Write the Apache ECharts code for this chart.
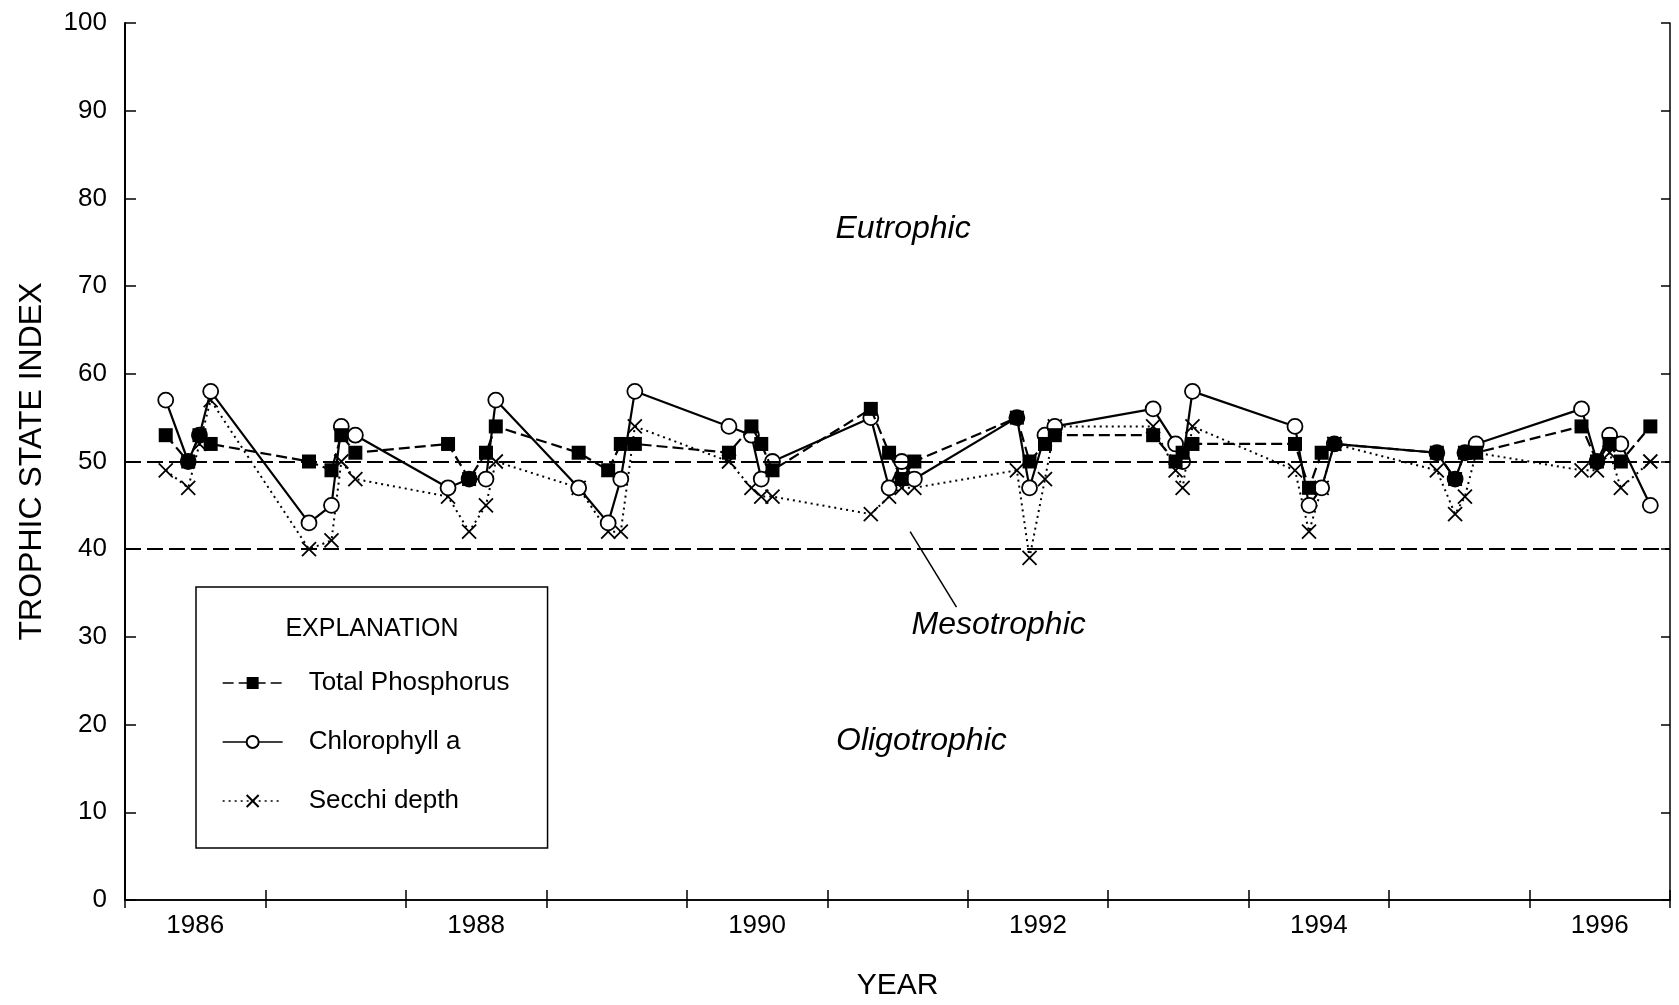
<!DOCTYPE html>
<html>
<head>
<meta charset="utf-8">
<script src="https://cdn.jsdelivr.net/npm/echarts@6/dist/echarts.min.js"></script>
<style>
  html, body { margin: 0; background: #fff; }
  #chart { width: 1679px; height: 1005px; }
</style>
</head>
<body>
<div id="chart"></div>
<script>
// sampling dates, decimal years
const dates = [
  1986.29, 1986.45, 1986.53, 1986.61,
  1987.31, 1987.47, 1987.54, 1987.64,
  1988.30, 1988.45, 1988.57, 1988.64,
  1989.23, 1989.44, 1989.53, 1989.63,
  1990.30, 1990.46, 1990.53, 1990.61,
  1991.31, 1991.44, 1991.53, 1991.62,
  1992.35, 1992.44, 1992.55, 1992.62,
  1993.32, 1993.48, 1993.53, 1993.60,
  1994.33, 1994.43, 1994.52, 1994.61,
  1995.34, 1995.47, 1995.54, 1995.62,
  1996.37, 1996.48, 1996.57, 1996.65, 1996.86
];
const totalPhosphorus = [
  53, 50, 53, 52,  50, 49, 53, 51,  52, 48, 51, 54,  51, 49, 52, 52,
  51, 54, 52, 49,  56, 51, 48, 50,  55, 50, 52, 53,  53, 50, 51, 52,
  52, 47, 51, 52,  51, 48, 51, 51,  54, 50, 52, 50, 54
];
const chlorophyllA = [
  57, 50, 53, 58,  43, 45, 54, 53,  47, 48, 48, 57,  47, 43, 48, 58,
  54, 53, 48, 50,  55, 47, 50, 48,  55, 47, 53, 54,  56, 52, 50, 58,
  54, 45, 47, 52,  51, 48, 51, 52,  56, 50, 53, 52, 45
];
const secchiDepth = [
  49, 47, 52, 57,  40, 41, 50, 48,  46, 42, 45, 50,  47, 42, 42, 54,
  50, 47, 46, 46,  44, 46, 47, 47,  49, 39, 48, 54,  54, 49, 47, 54,
  49, 42, 47, 52,  49, 44, 46, 51,  49, 49, 51, 47, 50
];

const yearTicks = [1986, 1987, 1988, 1989, 1990, 1991, 1992, 1993, 1994, 1995, 1996, 1997];
const yearLabels = [1986, 1988, 1990, 1992, 1994, 1996];
const boundaries = [50, 40];

// zone names and where they sit (data space)
const zoneNames = ["Eutrophic", "Mesotrophic", "Oligotrophic"];
const zoneX = [1991.54, 1992.22, 1991.67];
const zoneY = [76.5, 31.3, 18.1];
const leaderFrom = [1991.59, 42.0];
const leaderTo = [1991.92, 33.4];

const FONT = "Liberation Sans, Arial, Helvetica, sans-serif";
const pts = (vals) => dates.map((d, i) => [d, vals[i]]);
const X_MARK = "path://M0,0L10,10M0,10L10,0";

const chart = echarts.init(document.getElementById("chart"));

const option = {
  backgroundColor: "#fff",
  animation: false,
  textStyle: { fontFamily: FONT, color: "#000" },
  grid: { left: 125, right: 9, top: 23, bottom: 105, outerBoundsMode: "none" },
  xAxis: [
    {
      type: "value", min: 1986, max: 1997, position: "bottom",
      name: "YEAR", nameLocation: "middle", nameGap: 71,
      nameTextStyle: { fontSize: 30, color: "#000", fontFamily: FONT },
      axisLine: { show: true, lineStyle: { color: "#000", width: 1.5 } },
      axisTick: { show: true, inside: true, length: 10, customValues: yearTicks,
        lineStyle: { color: "#000", width: 1.5 } },
      axisLabel: { show: true, margin: 13, fontSize: 26, color: "#000", fontFamily: FONT,
        customValues: yearLabels.map(y => y + 0.5),
        formatter: v => String(Math.floor(v)) },
      splitLine: { show: false }
    },
    {
      type: "value", min: 1986, max: 1997, position: "top",
      axisLine: { show: true, lineStyle: { color: "#000", width: 1.5 } },
      axisTick: { show: true, inside: true, length: 8, customValues: yearTicks,
        lineStyle: { color: "#000", width: 1.5 } },
      axisLabel: { show: false },
      splitLine: { show: false }
    }
  ],
  yAxis: [
    {
      type: "value", min: 0, max: 100, interval: 10, position: "left",
      name: "TROPHIC STATE INDEX", nameLocation: "middle", nameGap: 77,
      nameTextStyle: { fontSize: 32, color: "#000", fontFamily: FONT },
      axisLine: { show: true, lineStyle: { color: "#000", width: 2 } },
      axisTick: { show: true, inside: true, length: 11, lineStyle: { color: "#000", width: 1.5 } },
      axisLabel: { margin: 18, fontSize: 26, color: "#000", fontFamily: FONT },
      splitLine: { show: false }
    },
    {
      type: "value", min: 0, max: 100, interval: 10, position: "right",
      axisLine: { show: true, lineStyle: { color: "#000", width: 1.5 } },
      axisTick: { show: true, inside: true, length: 9, lineStyle: { color: "#000", width: 1.5 } },
      axisLabel: { show: false },
      splitLine: { show: false }
    }
  ],
  legend: {
    left: 196, top: 587, orient: "vertical",
    data: ["Total Phosphorus", "Chlorophyll a", "Secchi depth"],
    selectedMode: false,
    itemWidth: 60, itemHeight: 15, itemGap: 29,
    padding: [81, 38, 32, 26],
    borderColor: "#000", borderWidth: 1.5, backgroundColor: "#fff",
    textStyle: { fontSize: 26, color: "#000", fontFamily: FONT, lineHeight: 30, padding: [0, 0, 0, 21] },
    lineStyle: { width: 1.3 }
  },
  series: [
    {
      name: "Secchi depth", type: "line", data: pts(secchiDepth),
      symbol: X_MARK, symbolSize: 14,
      lineStyle: { color: "#000", width: 2, type: [2, 4] },
      itemStyle: { color: "#000", borderColor: "#000", borderWidth: 1.8 },
      z: 3,
      markLine: {
        silent: true, symbol: "none", label: { show: false }, animation: false,
        lineStyle: { color: "#000", width: 2, type: [16, 6] },
        data: boundaries.map(v => ({ yAxis: v }))
      }
    },
    {
      name: "Chlorophyll a", type: "line", data: pts(chlorophyllA),
      symbol: "circle", symbolSize: 15,
      lineStyle: { color: "#000", width: 2.2, type: "solid" },
      itemStyle: { color: "#fff", borderColor: "#000", borderWidth: 1.8 },
      z: 4
    },
    {
      name: "Total Phosphorus", type: "line", data: pts(totalPhosphorus),
      symbol: "rect", symbolSize: 14,
      lineStyle: { color: "#000", width: 2.2, type: [11, 5] },
      itemStyle: { color: "#000", borderColor: "#000", borderWidth: 0 },
      z: 5
    }
  ]
};

chart.setOption(option);

// annotations placed through the chart's own scales
const toPx = (p) => chart.convertToPixel({ xAxisIndex: 0, yAxisIndex: 0 }, p);
const annot = zoneNames.map((name, i) => {
  const [x, y] = toPx([zoneX[i], zoneY[i]]);
  return {
    type: "text", x, y, z: 10,
    style: { text: name, fontSize: 32, fontStyle: "italic", fontFamily: FONT,
      fill: "#000", align: "center", verticalAlign: "middle" }
  };
});
const a = toPx(leaderFrom), b = toPx(leaderTo);
annot.push({
  type: "line", z: 10,
  shape: { x1: a[0], y1: a[1], x2: b[0], y2: b[1] },
  style: { stroke: "#000", lineWidth: 1.5 }
});
// legend heading
annot.push({
  type: "text", x: 372, y: 629, z: 10,
  style: { text: "EXPLANATION", fontSize: 25, fontFamily: FONT, fill: "#000",
    align: "center", verticalAlign: "middle" }
});
chart.setOption({ graphic: annot });
</script>
</body>
</html>
